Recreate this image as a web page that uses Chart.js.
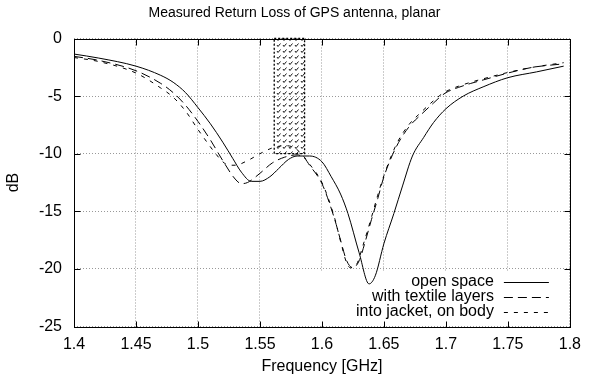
<!DOCTYPE html>
<html>
<head>
<meta charset="utf-8">
<script src="https://cdn.jsdelivr.net/npm/chart.js@4"></script>
<style>
  html, body { margin: 0; padding: 0; background: #fff; }
  #wrap { width: 589px; height: 383px; }
</style>
</head>
<body>
<div id="wrap"><canvas id="myChart" width="589" height="383"></canvas></div>
<script>
// axis ticks
const xTicks = [1.4, 1.45, 1.5, 1.55, 1.6, 1.65, 1.7, 1.75, 1.8];
const yTicks = [0, -5, -10, -15, -20, -25];

// GPS L1 band (hatched box)
const gpsBand = [1.5615, 1.586];
const gpsBandDb = [0, -10];

// open space
const openFreq = [1.4, 1.42, 1.45, 1.47, 1.48, 1.49, 1.5, 1.51, 1.52, 1.528, 1.535, 1.543, 1.55, 1.558,
  1.565, 1.573, 1.58, 1.59, 1.6, 1.6075, 1.615, 1.621, 1.63, 1.638, 1.643, 1.65, 1.658, 1.665, 1.673,
  1.682, 1.69, 1.7, 1.714, 1.73, 1.75, 1.773, 1.795];
const openDb = [-1.35, -1.7, -2.4, -3.2, -3.8, -4.7, -6.0, -7.4, -9.0, -10.4, -11.6, -12.4, -12.4, -12.0,
  -11.3, -10.5, -10.2, -10.2, -10.7, -12.0, -13.5, -15.2, -18.6, -21.3, -20.6, -17.8, -15.2, -12.8, -10.2,
  -8.6, -7.3, -6.1, -5.0, -4.2, -3.4, -2.9, -2.4];

// with textile layers
const textileFreq = [1.4, 1.42, 1.45, 1.47, 1.48, 1.49, 1.5, 1.51, 1.52, 1.53, 1.535, 1.54, 1.55, 1.56,
  1.57, 1.58, 1.586, 1.59, 1.6, 1.61, 1.615, 1.62, 1.625, 1.63, 1.635, 1.64, 1.645, 1.65, 1.66, 1.67,
  1.68, 1.69, 1.695, 1.7, 1.705, 1.71, 1.72, 1.73, 1.75, 1.77, 1.795];
const textileDb = [-1.55, -1.9, -2.8, -3.9, -4.7, -5.8, -7.2, -8.8, -10.6, -12.2, -12.6, -12.5, -11.7, -10.8,
  -10.3, -10.1, -10.4, -11.0, -12.6, -15.6, -17.5, -19.3, -19.9, -19.3, -17.6, -15.7, -13.9, -12.0, -9.4, -7.7,
  -6.6, -5.6, -5.1, -4.7, -4.45, -4.25, -3.9, -3.6, -3.0, -2.5, -2.2];

// into jacket, on body
const jacketFreq = [1.4, 1.42, 1.45, 1.47, 1.48, 1.49, 1.5, 1.51, 1.515, 1.52, 1.525, 1.53, 1.54, 1.55,
  1.56, 1.57, 1.578, 1.585, 1.59, 1.6, 1.61, 1.615, 1.62, 1.623, 1.628, 1.633, 1.64, 1.645, 1.65, 1.66,
  1.67, 1.68, 1.69, 1.695, 1.7, 1.705, 1.71, 1.72, 1.73, 1.75, 1.77, 1.795];
const jacketDb = [-1.65, -2.0, -3.0, -4.3, -5.1, -6.3, -7.9, -9.4, -10.1, -10.7, -11.0, -11.0, -10.6, -10.0,
  -9.5, -9.3, -9.5, -10.2, -10.9, -12.5, -15.5, -17.6, -19.5, -19.9, -19.6, -18.0, -15.5, -13.6, -11.9, -9.2,
  -7.5, -6.4, -5.4, -4.95, -4.6, -4.35, -4.15, -3.8, -3.5, -2.95, -2.5, -2.1];

const TITLE = "Measured Return Loss of GPS antenna, planar";
const FONT = "'Liberation Sans', Arial, Helvetica, sans-serif";
const toPoints = (xs, ys) => xs.map((x, i) => ({ x: x, y: ys[i] }));

function hatchPattern(ctx) {
  const c = document.createElement("canvas");
  c.width = 6;
  c.height = 6;
  const g = c.getContext("2d");
  g.strokeStyle = "#000";
  g.lineWidth = 0.9;
  g.beginPath();
  g.moveTo(1, 3);
  g.lineTo(2, 4.5);
  g.lineTo(4.5, 1.5);
  g.stroke();
  return ctx.createPattern(c, "repeat");
}

// gnuplot style frame, hatched band, key and title
const frame = {
  id: "frame",
  beforeDatasetsDraw(chart) {
    const { ctx, chartArea: a, scales: { x, y } } = chart;
    ctx.save();
    // key area hides the grid
    ctx.fillStyle = "#fff";
    ctx.fillRect(a.right - 256, a.bottom - 55, 255, 54);

    const x0 = x.getPixelForValue(gpsBand[0]);
    const x1 = x.getPixelForValue(gpsBand[1]);
    const y0 = y.getPixelForValue(gpsBandDb[0]);
    const y1 = y.getPixelForValue(gpsBandDb[1]);
    ctx.fillStyle = hatchPattern(ctx);
    ctx.fillRect(x0, y0, x1 - x0, y1 - y0);
    ctx.setLineDash([2, 2]);
    ctx.lineWidth = 1.3;
    ctx.strokeStyle = "#000";
    ctx.strokeRect(x0, y0, x1 - x0, y1 - y0);
    ctx.restore();
  },
  afterDatasetsDraw(chart) {
    const { ctx, chartArea: a, scales: { x, y } } = chart;
    ctx.save();
    ctx.strokeStyle = "#000";
    ctx.lineWidth = 1;
    ctx.setLineDash([]);
    const L = Math.round(a.left) + 0.5, R = Math.round(a.right) + 0.5;
    const T = Math.round(a.top) + 0.5, B = Math.round(a.bottom) + 0.5;
    ctx.strokeRect(L, T, R - L, B - T);
    ctx.beginPath();
    xTicks.forEach((v) => {
      const px = Math.round(x.getPixelForValue(v)) + 0.5;
      ctx.moveTo(px, B); ctx.lineTo(px, B - 6);
      ctx.moveTo(px, T); ctx.lineTo(px, T + 6);
    });
    yTicks.forEach((v) => {
      const py = Math.round(y.getPixelForValue(v)) + 0.5;
      ctx.moveTo(L, py); ctx.lineTo(L + 6, py);
      ctx.moveTo(R, py); ctx.lineTo(R - 6, py);
    });
    ctx.stroke();

    // key
    ctx.font = "16px " + FONT;
    ctx.fillStyle = "#000";
    ctx.textAlign = "right";
    ctx.textBaseline = "middle";
    chart.data.datasets.forEach((ds, i) => {
      const ty = a.bottom - 45 + i * 15;
      ctx.fillText(ds.label, a.right - 76, ty);
      ctx.setLineDash(ds.borderDash || []);
      ctx.beginPath();
      ctx.moveTo(a.right - 66, Math.round(ty) + 0.5);
      ctx.lineTo(a.right - 21, Math.round(ty) + 0.5);
      ctx.stroke();
    });

    // title, centred on the whole picture
    ctx.setLineDash([]);
    ctx.font = "14px " + FONT;
    ctx.textAlign = "center";
    ctx.fillText(TITLE, chart.width / 2, 13);
    ctx.restore();
  },
};

const lineStyle = {
  borderColor: "#000",
  borderWidth: 1,
  pointRadius: 0,
  fill: false,
  cubicInterpolationMode: "monotone",
};

new Chart(document.getElementById("myChart"), {
  type: "line",
  data: {
    datasets: [
      { ...lineStyle, label: "open space", data: toPoints(openFreq, openDb) },
      { ...lineStyle, label: "with textile layers", data: toPoints(textileFreq, textileDb), borderDash: [9, 5] },
      { ...lineStyle, label: "into jacket, on body", data: toPoints(jacketFreq, jacketDb), borderDash: [4, 6] },
    ],
  },
  options: {
    responsive: false,
    animation: false,
    layout: { padding: { top: 38.5, right: 14 } },
    plugins: {
      legend: { display: false },
      tooltip: { enabled: false },
    },
    scales: {
      x: {
        type: "linear",
        min: 1.4,
        max: 1.8,
        afterBuildTicks: (s) => { s.ticks = xTicks.map((v) => ({ value: v })); },
        afterFit: (s) => { s.height = 56.5; },
        grid: { color: "#999", drawTicks: false },
        border: { display: false, dash: [1, 2] },
        ticks: {
          color: "#000",
          font: { family: FONT, size: 16 },
          padding: 8,
          maxRotation: 0,
          autoSkip: false,
          callback: (v) => String(v),
        },
        title: {
          display: true,
          text: "Frequency [GHz]",
          color: "#000",
          font: { family: FONT, size: 16 },
          padding: { top: 0, bottom: 6.4 },
        },
      },
      y: {
        min: -25,
        max: 0,
        afterBuildTicks: (s) => { s.ticks = yTicks.map((v) => ({ value: v })); },
        afterFit: (s) => { s.width = 74; },
        grid: { color: "#999", drawTicks: false },
        border: { display: false, dash: [1, 2] },
        ticks: {
          color: "#000",
          font: { family: FONT, size: 16 },
          padding: 12,
          callback: (v) => String(v),
        },
        title: {
          display: true,
          text: "dB",
          color: "#000",
          font: { family: FONT, size: 16 },
          padding: { top: 4.4, bottom: 0 },
        },
      },
    },
  },
  plugins: [frame],
});
</script>
</body>
</html>
